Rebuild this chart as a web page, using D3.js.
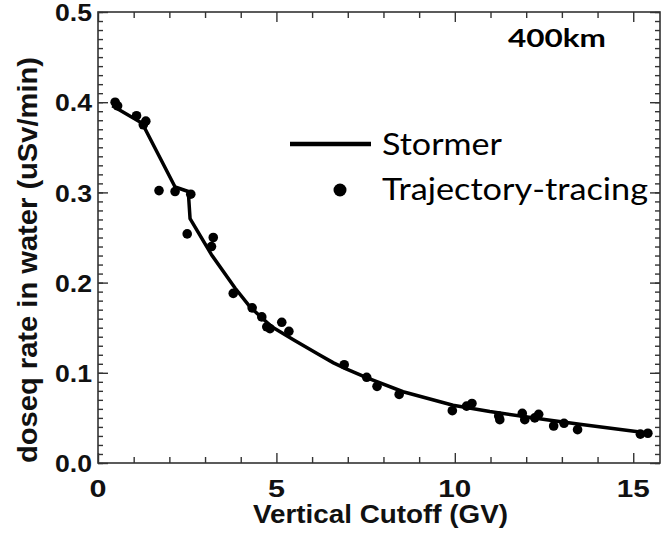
<!DOCTYPE html>
<html>
<head>
<meta charset="utf-8">
<script src="https://cdn.jsdelivr.net/npm/d3@7"></script>
<style>
  body { margin: 0; background: #fff; }
  svg { display: block; }
  .tick-label { font-family: 'Liberation Sans', Arial, sans-serif; font-weight: bold; fill: #111; }
  .legend { font-family: Lato, 'Open Sans', sans-serif; fill: #000; }
</style>
</head>
<body>
<svg id="chart"></svg>
<script>
// Stormer cutoff model (solid line)
const stormerX = [0.4, 1.18, 1.3, 2.16, 2.53, 2.58, 3.18, 3.84, 4.26, 4.87, 5.5, 6.2, 6.6, 6.97, 7.56, 8.55, 9.95, 10.98, 12.57, 13.5, 15.46];
const stormerY = [0.396, 0.378, 0.372, 0.306, 0.301, 0.271, 0.231, 0.194, 0.173, 0.151, 0.136, 0.120, 0.111, 0.104, 0.094, 0.079, 0.064, 0.057, 0.048, 0.043, 0.033];

// trajectory-tracing (dots)
const traceX = [0.48, 0.55, 1.08, 1.34, 1.27, 1.71, 2.16, 2.60, 2.50, 3.23, 3.18,
  3.79, 4.32, 4.59, 4.73, 4.82, 5.15, 5.35,
  6.90, 7.53, 7.82, 8.44, 9.93, 10.33, 10.48,
  11.23, 11.26, 11.89, 11.96, 12.24, 12.35, 12.77, 13.06, 13.44, 15.20, 15.41];
const traceY = [0.400, 0.396, 0.385, 0.379, 0.375, 0.302, 0.301, 0.298, 0.254, 0.250, 0.240,
  0.188, 0.172, 0.162, 0.151, 0.149, 0.156, 0.146,
  0.109, 0.095, 0.085, 0.076, 0.058, 0.063, 0.066,
  0.052, 0.048, 0.055, 0.048, 0.050, 0.054, 0.041, 0.044, 0.037, 0.032, 0.033];

const xMajor = [0, 5, 10, 15];
const yMajor = [0.0, 0.1, 0.2, 0.3, 0.4, 0.5];

const W = 669, H = 533;
const margin = { top: 12, right: 9, bottom: 70, left: 98 };
const iw = W - margin.left - margin.right;
const ih = H - margin.top - margin.bottom;

const svg = d3.select('#chart')
    .attr('width', W)
    .attr('height', H);

const g = svg.append('g')
    .attr('transform', `translate(${margin.left}, ${margin.top})`);

const x = d3.scaleLinear().domain([0, 15.75]).range([0, iw]);
const y = d3.scaleLinear().domain([0, 0.5]).range([ih, 0]);

const axisColor = '#333';

// minor + major ticks on all four sides, pointing inward
const xMinor = d3.range(0, 16, 1);
const yMinor = d3.range(0, 51, 1).map(d => d / 100);

function ticks(axis, vals, size, pos) {
  const a = g.append('g').attr('transform', pos).call(axis(vals, size));
  a.select('.domain').remove();
  a.selectAll('text').remove();
  a.selectAll('line').attr('stroke', axisColor).attr('stroke-width', 1.4);
}

const bottomAx = (v, s) => d3.axisBottom(x).tickValues(v).tickSize(-s);
const topAx = (v, s) => d3.axisTop(x).tickValues(v).tickSize(-s);
const leftAx = (v, s) => d3.axisLeft(y).tickValues(v).tickSize(-s);
const rightAx = (v, s) => d3.axisRight(y).tickValues(v).tickSize(-s);

ticks(bottomAx, xMinor.filter(d => d % 5 !== 0), 6, `translate(0, ${ih})`);
ticks(bottomAx, xMajor, 10, `translate(0, ${ih})`);
ticks(topAx, xMinor.filter(d => d % 5 !== 0), 6, 'translate(0, 0)');
ticks(topAx, xMajor, 10, 'translate(0, 0)');
ticks(leftAx, yMinor, 5, 'translate(0, 0)');
ticks(leftAx, yMajor, 10, 'translate(0, 0)');
ticks(rightAx, yMinor, 5, `translate(${iw}, 0)`);
ticks(rightAx, yMajor, 10, `translate(${iw}, 0)`);

g.append('rect')
    .attr('width', iw)
    .attr('height', ih)
    .attr('fill', 'none')
    .attr('stroke', axisColor)
    .attr('stroke-width', 1.6);

// tick labels (the original glyphs are a little wide, hence textLength)
g.selectAll('.xl')
    .data(xMajor)
  .enter().append('text')
    .attr('class', 'tick-label')
    .attr('x', d => x(d) - (d < 10 ? 8.5 : 16.5))
    .attr('y', ih + 34)
    .attr('font-size', 24)
    .attr('textLength', d => d < 10 ? 17 : 33)
    .attr('lengthAdjust', 'spacingAndGlyphs')
    .text(d => d);

g.selectAll('.yl')
    .data(yMajor)
  .enter().append('text')
    .attr('class', 'tick-label')
    .attr('x', -43)
    .attr('y', d => y(d))
    .attr('dy', '0.4em')
    .attr('font-size', 23)
    .attr('textLength', 37)
    .attr('lengthAdjust', 'spacingAndGlyphs')
    .text(d => d.toFixed(1));

// axis titles
svg.append('text')
    .attr('class', 'tick-label')
    .attr('x', 253)
    .attr('y', 523)
    .attr('font-size', 25)
    .attr('textLength', 255)
    .attr('lengthAdjust', 'spacingAndGlyphs')
    .text('Vertical Cutoff (GV)');

svg.append('text')
    .attr('class', 'tick-label')
    .attr('transform', 'translate(37, 463) rotate(-90)')
    .attr('font-size', 28)
    .attr('textLength', 406)
    .attr('lengthAdjust', 'spacingAndGlyphs')
    .text('doseq rate in water (uSv/min)');

// Stormer line
const line = d3.line()
    .x((d, i) => x(stormerX[i]))
    .y((d, i) => y(stormerY[i]));

g.append('path')
    .datum(stormerX)
    .attr('d', line)
    .attr('fill', 'none')
    .attr('stroke', '#000')
    .attr('stroke-width', 3.5)
    .attr('stroke-linejoin', 'round');

// trajectory-tracing dots
g.append('g')
    .attr('fill', '#000')
    .selectAll('circle')
    .data(traceX)
  .enter().append('circle')
    .attr('cx', (d, i) => x(d))
    .attr('cy', (d, i) => y(traceY[i]))
    .attr('r', 4.8);

// legend + label
svg.append('line')
    .attr('x1', 290).attr('x2', 371)
    .attr('y1', 144).attr('y2', 144)
    .attr('stroke', '#000')
    .attr('stroke-width', 4.5);

svg.append('circle')
    .attr('cx', 340).attr('cy', 190)
    .attr('r', 6.5)
    .attr('fill', '#000');

svg.append('text')
    .attr('class', 'legend')
    .attr('x', 382).attr('y', 155)
    .attr('font-size', 31)
    .attr('textLength', 120)
    .attr('lengthAdjust', 'spacingAndGlyphs')
    .text('Stormer');

svg.append('text')
    .attr('class', 'legend')
    .attr('x', 382).attr('y', 200)
    .attr('font-size', 31)
    .attr('textLength', 266)
    .attr('lengthAdjust', 'spacingAndGlyphs')
    .text('Trajectory-tracing');

svg.append('text')
    .attr('class', 'legend')
    .attr('x', 508).attr('y', 47)
    .attr('font-size', 25)
    .attr('font-weight', 'bold')
    .attr('textLength', 98)
    .attr('lengthAdjust', 'spacingAndGlyphs')
    .text('400km');
</script>
</body>
</html>
